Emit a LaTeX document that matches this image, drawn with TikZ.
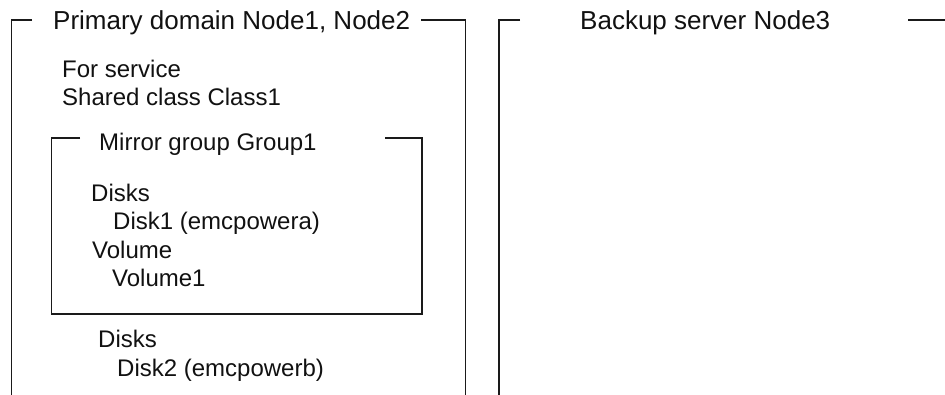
\documentclass[tikz,border=0pt]{standalone}
\usepackage{fontspec}
\setmainfont{Liberation Sans}
\definecolor{framegray}{HTML}{1a1a1a}
\definecolor{labeltext}{HTML}{111111}
\usepackage{tikz}
\usetikzlibrary{positioning}

\begin{document}
\begin{tikzpicture}[x=1pt, y=-1pt,
				frame/.style={draw=framegray, line width=1.8pt},
				ttl/.style={anchor=base west, inner sep=0pt, text=labeltext, font=\fontsize{26}{30}\selectfont},
				txt/.style={anchor=base west, inner sep=0pt, text=labeltext, font=\fontsize{24}{28}\selectfont}
			]
			\useasboundingbox (0,0) rectangle (945,394);

			% primary domain
			\node[ttl] (prim) at (53, 29) {Primary domain Node1, Node2};
			\node[txt] (svc) at (62, 77) {For service};
			\node[txt] (cls) at (62, 105) {Shared class Class1};
			\draw[frame] (32, 20) -- (11.5, 20) -- (11.5, 395);
			\draw[frame] (421, 20) -- (465.5, 20) -- (465.5, 395);

			% mirror group
			\node[txt] (grp) at (99, 150) {Mirror group Group1};
			\node[txt] (dsk1) at (91, 201) {Disks};
			\node[txt] (disk1) at (113, 229) {Disk1 (emcpowera)};
			\node[txt] (vol) at (92, 258) {Volume};
			\node[txt] (vol1) at (112, 286) {Volume1};
			\draw[frame] (80, 138) -- (51.5, 138) -- (51.5, 314) -- (422, 314) -- (422, 138) -- (385, 138);

			\node[txt] (dsk2) at (98, 347) {Disks};
			\node[txt] (disk2) at (117, 376) {Disk2 (emcpowerb)};

			% backup server
			\node[ttl] (bkp) at (580, 29) {Backup server Node3};
			\draw[frame] (520, 20) -- (499, 20) -- (499, 395);
			\draw[frame] (908, 20) -- (946, 20);
		\end{tikzpicture}
\end{document}
